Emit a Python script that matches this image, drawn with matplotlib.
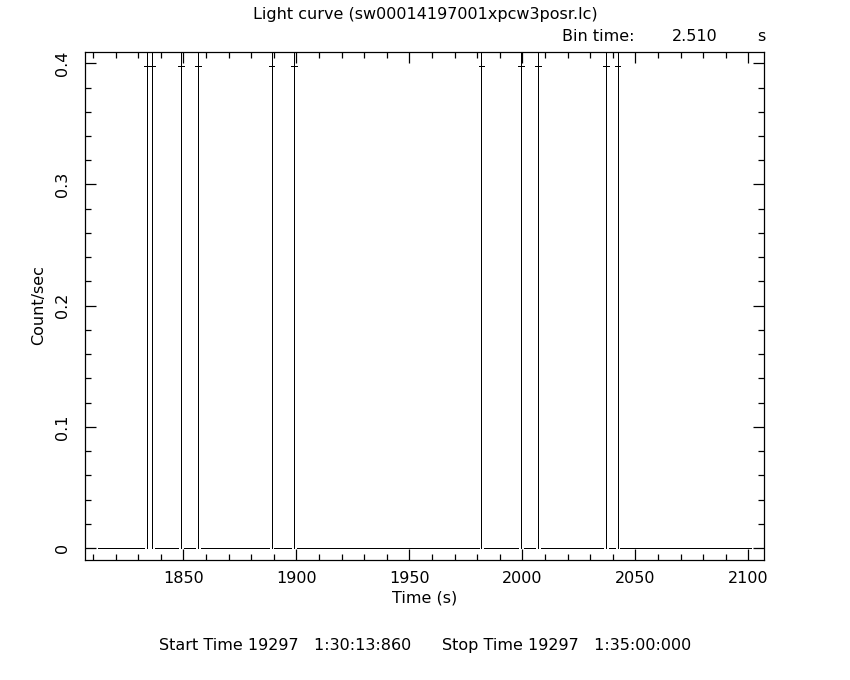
import numpy as np
import matplotlib
matplotlib.use('Agg')
import matplotlib.pyplot as plt
from matplotlib.ticker import MultipleLocator

# ------------------------- Light curve data ------------------------- #
# Bin width in seconds
bin_time = 2.51
# Centre of the first bin and number of bins in the file
first_bin = 1808.7
n_bins = 119
# Bins with no exposure (not drawn)
missing_bins = [1, 117]
# Bins holding one count (rate = 1/2.51 counts/s)
event_bins = [10, 11, 16, 19, 32, 36, 69, 76, 79, 91, 93]
event_rate = 0.398
event_err = 0.398

# Axis labels and header text
title = 'Light curve (sw00014197001xpcw3posr.lc)'
x_label = 'Time (s)'
y_label = 'Count/sec'
bin_label = ['Bin time:', '2.510', 's']
time_label = 'Start Time 19297   1:30:13:860      Stop Time 19297   1:35:00:000'

# Build bin centres, rates and errors
t = first_bin + bin_time * np.arange(n_bins)
rate = np.zeros(n_bins)
err = np.zeros(n_bins)
rate[event_bins] = event_rate
err[event_bins] = event_err
keep = np.ones(n_bins, dtype=bool)
keep[missing_bins] = False

plt.rcParams['font.family'] = ['DejaVu Sans']
fig = plt.figure(figsize=(8.5, 6.8), dpi=100)
ax = fig.add_axes([0.1, 0.1765, 0.7988, 0.7475])

# Draw each bin as a horizontal bar with a vertical error bar
eb = ax.errorbar(t[keep], rate[keep], xerr=bin_time / 2, yerr=err[keep],
                 fmt='none', ecolor='black', elinewidth=0.72, capsize=0)
for coll in eb.lines[2]:
    coll.set_antialiased(False)

# Set axis ranges
ax.set_xlim(1806.5, 2106.9)
ax.set_ylim(-0.0099, 0.4096)

# Ticks on all four sides, pointing in
ax.xaxis.set_major_locator(MultipleLocator(50))
ax.xaxis.set_minor_locator(MultipleLocator(10))
ax.yaxis.set_major_locator(MultipleLocator(0.1))
ax.yaxis.set_minor_locator(MultipleLocator(0.02))
ax.tick_params(which='both', direction='in', top=True, right=True,
               width=0.9, labelsize=11.5, colors='black')
ax.tick_params(which='major', length=8)
ax.tick_params(which='minor', length=4)
ax.tick_params(axis='x', pad=8)
ax.tick_params(axis='y', pad=11)
ax.set_yticks([0, 0.1, 0.2, 0.3, 0.4])
ax.set_yticklabels(['0', '0.1', '0.2', '0.3', '0.4'], rotation=90, va='center')
for s in ax.spines.values():
    s.set_linewidth(0.9)

# Labels and header text
ax.set_xlabel(x_label, fontsize=11.5, labelpad=3)
fig.text(0.045, 0.551, y_label, fontsize=11.5, rotation=90,
         ha='center', va='center')
fig.text(0.5, 0.979, title, fontsize=11.5, ha='center', va='center')
fig.text(562 / 850, 0.946, bin_label[0], fontsize=11.5, va='center')
fig.text(672 / 850, 0.946, bin_label[1], fontsize=11.5, va='center')
fig.text(757 / 850, 0.946, bin_label[2], fontsize=11.5, va='center')
fig.text(0.5, 0.051, time_label, fontsize=11.5, ha='center', va='center')

# Save plot as png file
plt.savefig('out.png', dpi=100)
